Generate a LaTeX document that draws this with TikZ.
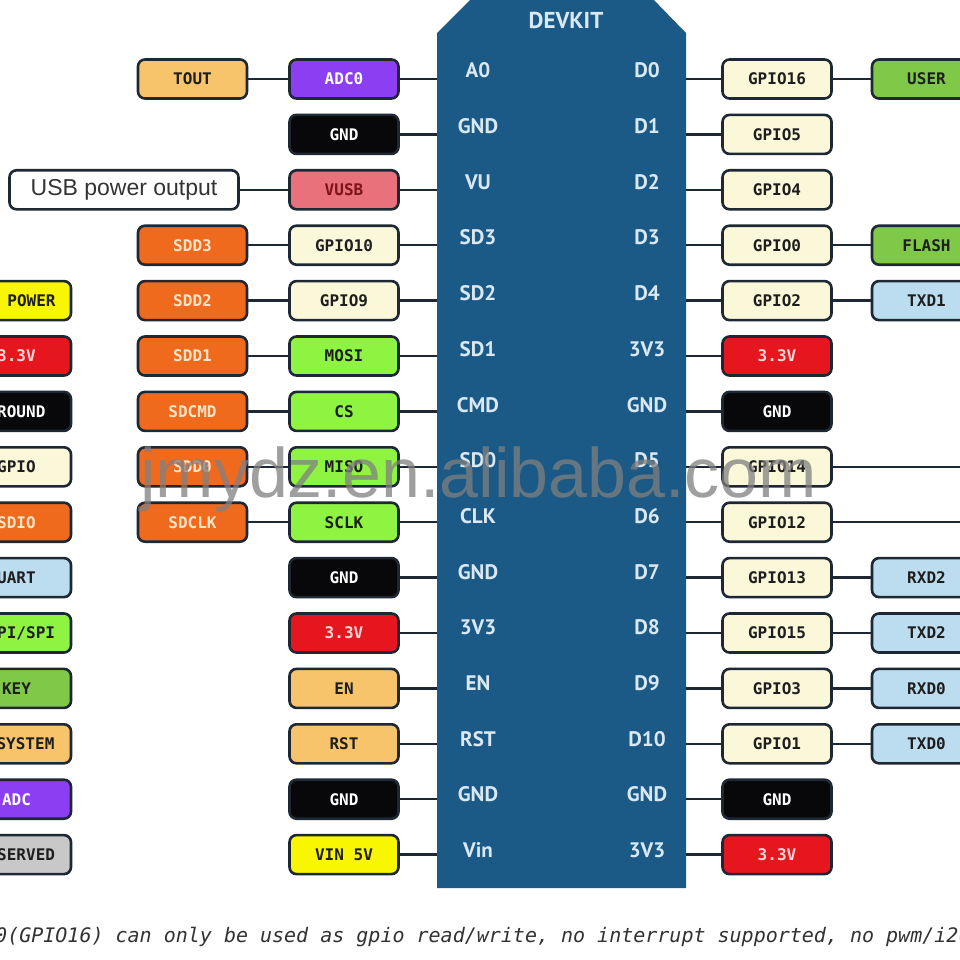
\documentclass[tikz,border=0pt]{standalone}
\usepackage{fontspec}
\setmainfont{DejaVu Sans}
\newfontfamily\boxfont{DejaVu Sans Mono}
\newfontfamily\chipfont{PT Sans}
\newfontfamily\wmfont{Liberation Sans}
\definecolor{chipblue}{RGB}{27,90,135}
\definecolor{chiptext}{RGB}{218,232,242}
\definecolor{edge}{RGB}{30,40,52}
\definecolor{cream}{RGB}{251,248,218}
\definecolor{lorange}{RGB}{247,196,108}
\definecolor{purp}{RGB}{140,62,242}
\definecolor{pinkred}{RGB}{232,113,123}
\definecolor{vusbtext}{RGB}{125,20,25}
\definecolor{sdorange}{RGB}{240,106,30}
\definecolor{sdtext}{RGB}{252,228,200}
\definecolor{lime}{RGB}{143,243,66}
\definecolor{keygreen}{RGB}{128,200,72}
\definecolor{lblue}{RGB}{188,220,240}
\definecolor{pwrred}{RGB}{230,22,30}
\definecolor{redtext}{RGB}{255,215,215}
\definecolor{yel}{RGB}{248,246,0}
\definecolor{rgray}{RGB}{200,200,200}
\definecolor{gndblack}{RGB}{8,8,10}
\definecolor{darktext}{RGB}{30,30,30}
\definecolor{notetext}{RGB}{50,50,50}
\tikzset{
  pin/.style={draw=edge, line width=2.6pt, rounded corners=7pt, minimum width=109pt,
    minimum height=39pt, inner sep=0pt, text=darktext,
    font=\boxfont\bfseries\fontsize{16}{16}\selectfont},
  pcream/.style={pin, fill=cream},
  plor/.style={pin, fill=lorange},
  ppur/.style={pin, fill=purp, text=white},
  pgnd/.style={pin, fill=gndblack, text=white},
  pvusb/.style={pin, fill=pinkred, text=vusbtext},
  psd/.style={pin, fill=sdorange, text=sdtext},
  plime/.style={pin, fill=lime},
  pkey/.style={pin, fill=keygreen},
  pblue/.style={pin, fill=lblue},
  pred/.style={pin, fill=pwrred, text=redtext},
  pyel/.style={pin, fill=yel},
  pgray/.style={pin, fill=rgray},
  usbbox/.style={draw=edge, line width=2.6pt, rounded corners=7pt, fill=white,
    minimum width=229pt, minimum height=39pt, inner sep=0pt, text=black!80,
    font=\wmfont\fontsize{23}{23}\selectfont},
  chiplbl/.style={inner sep=0pt, text=chiptext, font=\chipfont\bfseries\fontsize{21}{21}\selectfont},
  wire/.style={draw=edge, line width=2.4pt},
  wmark/.style={inner sep=0pt, text=gray, text opacity=0.75, font=\wmfont\fontsize{70}{70}\selectfont},
  notestyle/.style={inner sep=0pt, text=notetext, font=\boxfont\itshape\fontsize{20}{20}\selectfont}
}
\begin{document}
\begin{tikzpicture}[x=1pt,y=-1pt]
\useasboundingbox (0,0) rectangle (960,960);
\clip (0,0) rectangle (960,960);
\fill[white] (0,0) rectangle (960,960);
% chip
\fill[chipblue] (437,888) -- (437,33) -- (475,-5) -- (649,-5) -- (686,33) -- (686,888) -- cycle;
\coordinate (chipL) at (437,0);
\coordinate (chipR) at (686,0);
\node[chiplbl, font=\chipfont\bfseries\fontsize{23}{23}\selectfont] (devkit) at (566,20) {DEVKIT};
% chip labels left
\node[chiplbl] (cl0) at (478,70.5) {A0};
\node[chiplbl] (cl1) at (478,126.2) {GND};
\node[chiplbl] (cl2) at (478,181.9) {VU};
\node[chiplbl] (cl3) at (478,237.6) {SD3};
\node[chiplbl] (cl4) at (478,293.3) {SD2};
\node[chiplbl] (cl5) at (478,349) {SD1};
\node[chiplbl] (cl6) at (478,404.7) {CMD};
\node[chiplbl] (cl7) at (478,460.4) {SD0};
\node[chiplbl] (cl8) at (478,516.1) {CLK};
\node[chiplbl] (cl9) at (478,571.8) {GND};
\node[chiplbl] (cl10) at (478,627.5) {3V3};
\node[chiplbl] (cl11) at (478,683.2) {EN};
\node[chiplbl] (cl12) at (478,738.9) {RST};
\node[chiplbl] (cl13) at (478,794.6) {GND};
\node[chiplbl] (cl14) at (478,850.3) {Vin};
% chip labels right
\node[chiplbl] (cr0) at (647,70.5) {D0};
\node[chiplbl] (cr1) at (647,126.2) {D1};
\node[chiplbl] (cr2) at (647,181.9) {D2};
\node[chiplbl] (cr3) at (647,237.6) {D3};
\node[chiplbl] (cr4) at (647,293.3) {D4};
\node[chiplbl] (cr5) at (647,349) {3V3};
\node[chiplbl] (cr6) at (647,404.7) {GND};
\node[chiplbl] (cr7) at (647,460.4) {D5};
\node[chiplbl] (cr8) at (647,516.1) {D6};
\node[chiplbl] (cr9) at (647,571.8) {D7};
\node[chiplbl] (cr10) at (647,627.5) {D8};
\node[chiplbl] (cr11) at (647,683.2) {D9};
\node[chiplbl] (cr12) at (647,738.9) {D10};
\node[chiplbl] (cr13) at (647,794.6) {GND};
\node[chiplbl] (cr14) at (647,850.3) {3V3};
% left inner column
\node[ppur]   (la0)  at (344,79)    {ADC0};
\node[pgnd]   (la1)  at (344,134.4) {GND};
\node[pvusb]  (la2)  at (344,189.8) {VUSB};
\node[pcream] (la3)  at (344,245.2) {GPIO10};
\node[pcream] (la4)  at (344,300.6) {GPIO9};
\node[plime]  (la5)  at (344,356)   {MOSI};
\node[plime]  (la6)  at (344,411.4) {CS};
\node[plime]  (la7)  at (344,466.8) {MISO};
\node[plime]  (la8)  at (344,522.2) {SCLK};
\node[pgnd]   (la9)  at (344,577.6) {GND};
\node[pred]   (la10) at (344,633)   {3.3V};
\node[plor]   (la11) at (344,688.4) {EN};
\node[plor]   (la12) at (344,743.8) {RST};
\node[pgnd]   (la13) at (344,799.2) {GND};
\node[pyel]   (la14) at (344,854.6) {VIN 5V};
% left outer column
\node[plor]   (lb0) at (192.5,79)    {TOUT};
\node[usbbox] (lb2) at (124,189.8)   {USB power output};
\node[psd]    (lb3) at (192.5,245.2) {SDD3};
\node[psd]    (lb4) at (192.5,300.6) {SDD2};
\node[psd]    (lb5) at (192.5,356)   {SDD1};
\node[psd]    (lb6) at (192.5,411.4) {SDCMD};
\node[psd]    (lb7) at (192.5,466.8) {SDD0};
\node[psd]    (lb8) at (192.5,522.2) {SDCLK};
% legend
\node[pyel]   (lg4)  at (16.5,300.6) {\hspace*{30pt}POWER};
\node[pred]   (lg5)  at (16.5,356)   {3.3V};
\node[pgnd]   (lg6)  at (16.5,411.4) {GROUND};
\node[pcream] (lg7)  at (16.5,466.8) {GPIO};
\node[psd]    (lg8)  at (16.5,522.2) {SDIO};
\node[pblue]  (lg9)  at (16.5,577.6) {UART};
\node[plime]  (lg10) at (16.5,633)   {HSPI/SPI};
\node[pkey]   (lg11) at (16.5,688.4) {KEY};
\node[plor]   (lg12) at (16.5,743.8) {\hspace*{18pt}SYSTEM};
\node[ppur]   (lg13) at (16.5,799.2) {ADC};
\node[pgray]  (lg14) at (16.5,854.6) {RESERVED};
% right inner column
\node[pcream] (ra0)  at (777,79)    {GPIO16};
\node[pcream] (ra1)  at (777,134.4) {GPIO5};
\node[pcream] (ra2)  at (777,189.8) {GPIO4};
\node[pcream] (ra3)  at (777,245.2) {GPIO0};
\node[pcream] (ra4)  at (777,300.6) {GPIO2};
\node[pred]   (ra5)  at (777,356)   {3.3V};
\node[pgnd]   (ra6)  at (777,411.4) {GND};
\node[pcream] (ra7)  at (777,466.8) {GPIO14};
\node[pcream] (ra8)  at (777,522.2) {GPIO12};
\node[pcream] (ra9)  at (777,577.6) {GPIO13};
\node[pcream] (ra10) at (777,633)   {GPIO15};
\node[pcream] (ra11) at (777,688.4) {GPIO3};
\node[pcream] (ra12) at (777,743.8) {GPIO1};
\node[pgnd]   (ra13) at (777,799.2) {GND};
\node[pred]   (ra14) at (777,854.6) {3.3V};
% right outer column
\node[pkey]  (rb0)  at (926.5,79)    {USER};
\node[pkey]  (rb3)  at (926.5,245.2) {FLASH};
\node[pblue] (rb4)  at (926.5,300.6) {TXD1};
\node[pblue] (rb9)  at (926.5,577.6) {RXD2};
\node[pblue] (rb10) at (926.5,633)   {TXD2};
\node[pblue] (rb11) at (926.5,688.4) {RXD0};
\node[pblue] (rb12) at (926.5,743.8) {TXD0};
\coordinate (re7) at (966,466.8);
\coordinate (re8) at (966,522.2);
% connectors left
\foreach \k in {0,...,14} {\draw[wire] (la\k.east) -- (la\k.east -| chipL);}
\foreach \k in {0,2,3,4,5,6,7,8} {\draw[wire] (lb\k.east) -- (la\k.west);}
% connectors right
\foreach \k in {0,...,14} {\draw[wire] (ra\k.west -| chipR) -- (ra\k.west);}
\foreach \k in {0,3,4,9,10,11,12} {\draw[wire] (ra\k.east) -- (rb\k.west);}
\draw[wire] (ra7.east) -- (re7);
\draw[wire] (ra8.east) -- (re8);
% note
\node[notestyle, anchor=base west] (note) at (-17,942) {D0(GPIO16) can only be used as gpio read/write, no interrupt supported, no pwm/i2c/ow supported.};
% watermark
\node[wmark, anchor=base west] (wm) at (140,497) {jmydz.en.alibaba.com};
\end{tikzpicture}
\end{document}
